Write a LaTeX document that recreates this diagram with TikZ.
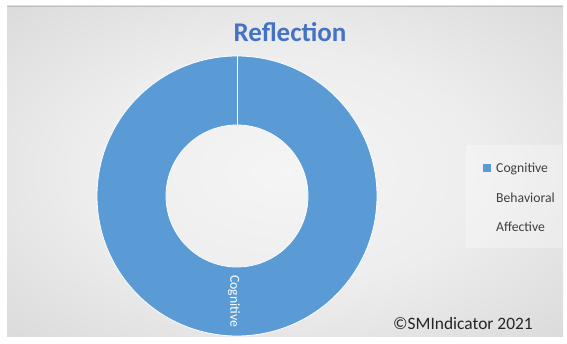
\documentclass[tikz,border=0pt]{standalone}
\usepackage{fontspec}
\setmainfont{Carlito}
\usetikzlibrary{positioning}
\definecolor{ringblue}{RGB}{91,155,213}
\definecolor{titleblue}{RGB}{68,114,196}
\pgfdeclareradialshading{chartglow}{\pgfpoint{0bp}{0bp}}{%
  color(0bp)=(white!96!black); color(18bp)=(white!93!black);
  color(50bp)=(black!20); color(71bp)=(black!27)}

\begin{document}
\begin{tikzpicture}[x=1pt, y=1pt,
    legendtext/.style={anchor=west, inner sep=0pt, font=\fontsize{13.7}{16}\selectfont, text=black!75},
    legendkey/.style={rectangle, fill=ringblue, minimum size=8pt, inner sep=0pt}]
    \useasboundingbox (0,0) rectangle (567,343);
    % chart area
    \shade[shading=chartglow] (7,7) rectangle (563,337);
    \draw[black!25, line width=0.6pt] (7,337) -- (563,337);

    % donut
    \coordinate (centre) at (237,147);
    \fill[ringblue, even odd rule] (centre) circle (140pt) (centre) circle (71pt);
    \draw[white, line width=0.8pt] (centre) circle (140pt) (centre) circle (71pt);
    \coordinate (cutin) at ([yshift=71pt]centre);
    \coordinate (cutout) at ([yshift=140pt]centre);
    \draw[white, line width=1pt] (cutin) -- (cutout);
    \node[rotate=-90, text=white, inner sep=0pt, font=\fontsize{13.7}{16}\selectfont] (ringlabel) at (234,42) {Cognitive};

    % title
    \node[anchor=base, text=titleblue, font=\fontsize{27}{32}\bfseries\selectfont] (title) at (290,301) {Reflection};

    % legend
    \node[rectangle, fill=white, fill opacity=0.3, minimum width=96pt, minimum height=103pt] (legend) at (514,146.5) {};
    \node[legendtext] (cog) at (496,174.5) {Cognitive};
    \node[legendtext, below=29pt of cog.west, anchor=west] (beh) {Behavioral};
    \node[legendtext, below=29pt of beh.west, anchor=west] (aff) {Affective};
    \node[legendkey, left=5pt of cog] (cogkey) {};

    \node[anchor=base west, inner sep=0pt, text=black!85, font=\fontsize{17.4}{20}\selectfont] (copy) at (393,14) {©SMIndicator 2021};
\end{tikzpicture}
\end{document}
